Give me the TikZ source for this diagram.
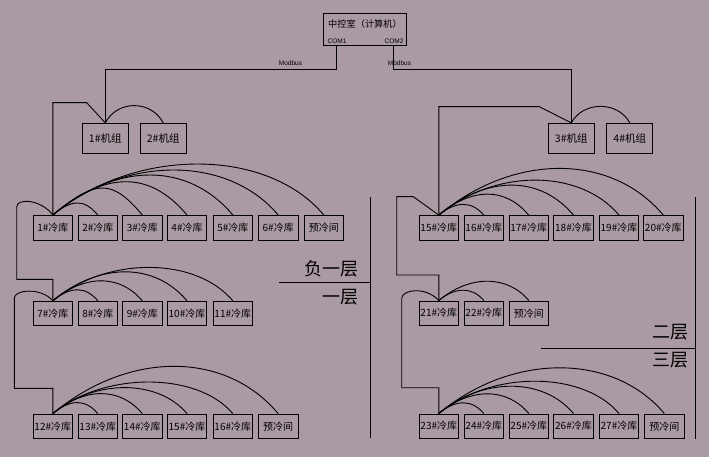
\documentclass[tikz,border=0pt]{standalone}
\usepackage{fontspec}
\setmainfont{Liberation Sans}
\newfontfamily\cjk{Noto Sans CJK SC}
\definecolor{bg}{RGB}{170,154,163}
\newcommand\larc[3]{\draw (#1.north) .. controls +({1.6*#3},{-1.333*#3}) and +({-1.12*#3},{-1.333*#3}) .. (#2.north);}
\begin{document}
\begin{tikzpicture}[x=1pt,y=-1pt,line width=0.9pt,
 box/.style={draw,inner sep=0pt,minimum width=39.5pt,minimum height=24.5pt,font=\cjk\fontsize{10}{11}\selectfont},
 unit/.style={draw,inner sep=0pt,minimum width=46pt,minimum height=30pt,font=\cjk\fontsize{10.5}{11}\selectfont},
 floor/.style={anchor=east,inner sep=0pt,font=\cjk\fontsize{18}{18}\selectfont},
 small/.style={inner sep=0pt,font=\fontsize{6.5}{7}\selectfont}]
\fill[bg] (0,0) rectangle (709,457);
\useasboundingbox (0,0) rectangle (709,457);
% central computer
\node[draw,inner sep=0pt,minimum width=83.4pt,minimum height=31.7pt] (ctrl) at (365,29.2) {};
\node[inner sep=0pt,font=\cjk\fontsize{9.2}{9}\selectfont] (ctrlt) at (365,24) {中控室（计算机）};
\node[small] (com1t) at (337,41) {COM1};
\node[small] (com2t) at (394,41) {COM2};
\node[small] (mb1) at (290.5,63) {Modbus};
\node[small] (mb2) at (399.5,63) {Modbus};
% units
\node[unit] (k1) at (105.3,138.3) {1\#机组};
\node[unit] (k2) at (163.2,138.3) {2\#机组};
\node[unit] (k3) at (571.3,138.3) {3\#机组};
\node[unit] (k4) at (629.8,138.3) {4\#机组};
% left row 1
\foreach \n/\x/\t in {a1/52.8/1\#冷库,a2/97.8/2\#冷库,a3/142.3/3\#冷库,a4/187/4\#冷库,a5/232.8/5\#冷库,a6/278.2/6\#冷库,a7/323.8/预冷间}
  \node[box] (\n) at (\x,227.7) {\t};
% left row 2
\foreach \n/\x/\t in {b1/52.8/7\#冷库,b2/97.8/8\#冷库,b3/142.3/9\#冷库,b4/187/10\#冷库,b5/232.8/11\#冷库}
  \node[box] (\n) at (\x,313.5) {\t};
% left row 3
\foreach \n/\x/\t in {c1/52.8/12\#冷库,c2/97.8/13\#冷库,c3/142.3/14\#冷库,c4/187/15\#冷库,c5/232.8/16\#冷库,c6/278.2/预冷间}
  \node[box] (\n) at (\x,426.3) {\t};
% right row 1
\foreach \n/\x/\t in {d1/438.8/15\#冷库,d2/483.8/16\#冷库,d3/528.7/17\#冷库,d4/573.5/18\#冷库,d5/619/19\#冷库,d6/663.3/20\#冷库}
  \node[box] (\n) at (\x,227.8) {\t};
% right row 2
\foreach \n/\x/\t in {e1/438.8/21\#冷库,e2/483.8/22\#冷库,e3/528.8/预冷间}
  \node[box] (\n) at (\x,313.2) {\t};
% right row 3
\foreach \n/\x/\t in {f1/438.8/23\#冷库,f2/483.8/24\#冷库,f3/528.8/25\#冷库,f4/573.5/26\#冷库,f5/619/27\#冷库,f6/664.3/预冷间}
  \node[box] (\n) at (\x,426.2) {\t};
% arcs
\foreach \t/\h in {a2/12,a3/27,a4/33.3,a5/40,a6/45,a7/51} {\larc{a1}{\t}{\h}}
\foreach \t/\h in {b2/11,b3/20,b4/29,b5/33.4} {\larc{b1}{\t}{\h}}
\foreach \t/\h in {c2/11,c3/20,c4/26,c5/31.6,c6/47.3} {\larc{c1}{\t}{\h}}
\foreach \t/\h in {d2/10.7,d3/21,d4/30,d5/35,d6/46.7} {\larc{d1}{\t}{\h}}
\foreach \t/\h in {e2/10.3,e3/19.3} {\larc{e1}{\t}{\h}}
\foreach \t/\h in {f2/10.7,f3/19.7,f4/27.3,f5/32.3,f6/45.7} {\larc{f1}{\t}{\h}}
\draw (k1.north) .. controls +(12,-23) and +(-12,-23) .. (k2.north);
\draw (k3.north) .. controls +(12,-22) and +(-12,-22) .. (k4.north);
% bus from the computer
\coordinate (com1) at (336.7,45.05);
\coordinate (j1) at (336.7,69.3);
\coordinate (j2) at (105.3,69.3);
\draw (com1) -- (j1) -- (j2) -- (k1.north);
\coordinate (com2) at (393.3,45.05);
\coordinate (j3) at (393.3,69.3);
\coordinate (j4) at (571.3,69.3);
\draw (com2) -- (j3) -- (j4) -- (k3.north);
% left chain
\coordinate (p1) at (86.7,102.7);
\coordinate (p2) at (52.8,102.7);
\draw (k1.north) -- (p1) -- (p2) -- (a1.north);
\coordinate (p3) at (16.7,207);
\coordinate (p4) at (16.7,279.3);
\coordinate (p5) at (52.8,279.3);
\draw (a1.north) .. controls +(-12,-16) and +(0,-9) .. (p3) -- (p4) -- (p5) -- (b1.north);
\coordinate (p6) at (14.3,298);
\coordinate (p7) at (14.3,388.3);
\coordinate (p8) at (52.8,388.3);
\draw (b1.north) .. controls +(-12,-14) and +(0,-8) .. (p6) -- (p7) -- (p8) -- (c1.north);
% right chain
\coordinate (q1) at (539.3,106.7);
\coordinate (q2) at (438.8,106.7);
\draw (k3.north) -- (q1) -- (q2) -- (d1.north);
\coordinate (q3) at (413.3,196.7);
\coordinate (q4) at (396.7,196.7);
\coordinate (q5) at (396.7,275);
\coordinate (q6) at (438.8,275);
\draw (d1.north) -- (q3) -- (q4) -- (q5) -- (q6) -- (e1.north);
\coordinate (q7) at (401.7,298.3);
\coordinate (q8) at (401.7,387.7);
\coordinate (q9) at (438.8,387.7);
\draw (e1.north) .. controls +(-14,-15) and +(0,-8) .. (q7) -- (q8) -- (q9) -- (f1.north);
% floor dividers
\coordinate (v1t) at (370,197);
\coordinate (v1b) at (370,438);
\coordinate (h1l) at (279,282.3);
\coordinate (h1r) at (370,282.3);
\draw (v1t) -- (v1b);
\draw (h1l) -- (h1r);
\coordinate (v2t) at (695,197);
\coordinate (v2b) at (695,439);
\coordinate (h2l) at (541,348.3);
\coordinate (h2r) at (695,348.3);
\draw (v2t) -- (v2b);
\draw (h2l) -- (h2r);
\node[floor] (fl1) at (359,268.3) {负一层};
\node[floor] (fl2) at (359,297.5) {一层};
\node[floor] (fl3) at (689,331.7) {二层};
\node[floor] (fl4) at (689,360) {三层};
\end{tikzpicture}
\end{document}
